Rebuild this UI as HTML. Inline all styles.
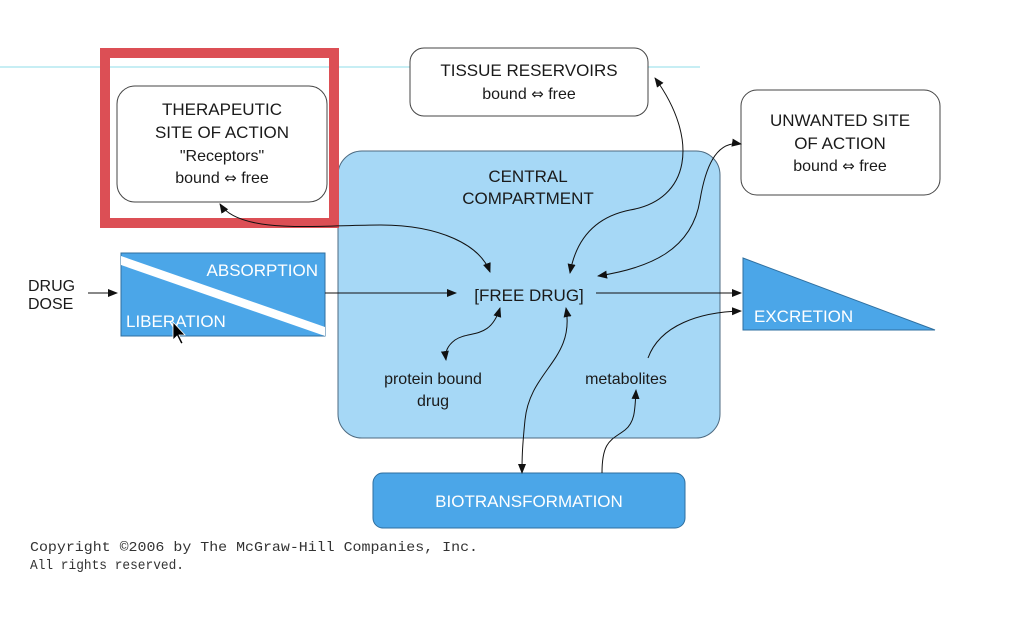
<!DOCTYPE html>
<html><head><meta charset="utf-8"><style>
html,body{margin:0;padding:0;background:#fff;}
svg{display:block;font-family:"Liberation Sans",Arial,sans-serif;}
.g{font-family:"DejaVu Sans",sans-serif;font-size:15px;}
</style></head><body>
<svg width="1016" height="620" viewBox="0 0 1016 620" xmlns="http://www.w3.org/2000/svg">
<defs>
<marker id="a" viewBox="0 0 10 10" refX="9" refY="5" markerWidth="10" markerHeight="10" orient="auto-start-reverse"><path d="M0,1 L10,5 L0,9 z" fill="#111"/></marker>
</defs>
<rect width="1016" height="620" fill="#fff"/>
<line x1="0" y1="67" x2="700" y2="67" stroke="#8fdde8" stroke-width="1"/>
<rect x="338" y="151" width="382" height="287" rx="24" fill="#a6d8f6" stroke="#4d6a80" stroke-width="1"/>
<text x="528" y="182" font-size="17" text-anchor="middle" fill="#1a1a1a">CENTRAL</text>
<text x="528" y="204" font-size="17" text-anchor="middle" fill="#1a1a1a">COMPARTMENT</text>
<text x="529" y="301" font-size="17" text-anchor="middle" fill="#1a1a1a">[FREE DRUG]</text>
<text x="433" y="384" font-size="16" text-anchor="middle" fill="#1a1a1a">protein bound</text>
<text x="433" y="406" font-size="16" text-anchor="middle" fill="#1a1a1a">drug</text>
<text x="626" y="384" font-size="16" text-anchor="middle" fill="#1a1a1a">metabolites</text>
<rect x="105" y="53" width="229" height="170" fill="none" stroke="#dc4f55" stroke-width="10"/>
<rect x="117" y="86" width="210" height="116" rx="18" fill="#fff" stroke="#444" stroke-width="1"/>
<text x="222" y="115" font-size="17" text-anchor="middle" fill="#1a1a1a">THERAPEUTIC</text>
<text x="222" y="138" font-size="17" text-anchor="middle" fill="#1a1a1a">SITE OF ACTION</text>
<text x="222" y="161" font-size="16" text-anchor="middle" fill="#1a1a1a">"Receptors"</text>
<text x="222" y="183" font-size="16" text-anchor="middle" fill="#1a1a1a">bound <tspan class="g">⇔</tspan> free</text>
<rect x="410" y="48" width="238" height="68" rx="14" fill="#fff" stroke="#444" stroke-width="1"/>
<text x="529" y="76" font-size="17" text-anchor="middle" fill="#1a1a1a">TISSUE RESERVOIRS</text>
<text x="529" y="99" font-size="16" text-anchor="middle" fill="#1a1a1a">bound <tspan class="g">⇔</tspan> free</text>
<rect x="741" y="90" width="199" height="105" rx="16" fill="#fff" stroke="#444" stroke-width="1"/>
<text x="840" y="126" font-size="17" text-anchor="middle" fill="#1a1a1a">UNWANTED SITE</text>
<text x="840" y="149" font-size="17" text-anchor="middle" fill="#1a1a1a">OF ACTION</text>
<text x="840" y="171" font-size="16" text-anchor="middle" fill="#1a1a1a">bound <tspan class="g">⇔</tspan> free</text>
<rect x="121" y="253" width="204" height="83" fill="#4ba6e8" stroke="#2f6f9f" stroke-width="1"/>
<polygon points="121,256 121,265 325,336 325,327" fill="#fff"/>
<text x="318" y="276" font-size="17" text-anchor="end" fill="#fff">ABSORPTION</text>
<text x="126" y="327" font-size="17" fill="#fff">LIBERATION</text>
<text x="28" y="291" font-size="16" fill="#1a1a1a">DRUG</text>
<text x="28" y="309" font-size="16" fill="#1a1a1a">DOSE</text>
<line x1="88" y1="293" x2="117" y2="293" stroke="#111" marker-end="url(#a)"/>
<polygon points="743,258 935,330 743,330" fill="#4ba6e8" stroke="#2f6f9f" stroke-width="1"/>
<text x="754" y="322" font-size="17" fill="#fff">EXCRETION</text>
<rect x="373" y="473" width="312" height="55" rx="10" fill="#4ba6e8" stroke="#2f6f9f" stroke-width="1"/>
<text x="529" y="507" font-size="17" text-anchor="middle" fill="#fff">BIOTRANSFORMATION</text>
<g fill="none" stroke="#111" stroke-width="1">
<line x1="325" y1="293" x2="456" y2="293" marker-end="url(#a)"/>
<line x1="596" y1="293" x2="741" y2="293" marker-end="url(#a)"/>
<path d="M220,204 C240,235 320,225 380,225 C440,225 480,245 490,272" marker-start="url(#a)" marker-end="url(#a)"/>
<path d="M655,78 C700,140 690,200 630,210 C590,218 575,245 570,273" marker-start="url(#a)" marker-end="url(#a)"/>
<path d="M741,144 C715,140 705,170 700,200 C692,250 650,268 598,276" marker-start="url(#a)" marker-end="url(#a)"/>
<path d="M500,308 C490,340 470,330 455,340 C447,346 445,352 446,360" marker-start="url(#a)" marker-end="url(#a)"/>
<path d="M566,308 C575,360 530,370 525,420 C522,450 522,460 522,473" marker-start="url(#a)" marker-end="url(#a)"/>
<path d="M602,473 C602,440 612,440 625,430 C635,422 635,410 636,390" marker-end="url(#a)"/>
<path d="M648,358 C660,325 700,312 741,311" marker-end="url(#a)"/>
</g>
<text x="30" y="551" font-size="14" fill="#333" font-family="Liberation Mono, monospace" textLength="448" lengthAdjust="spacingAndGlyphs">Copyright ©2006 by The McGraw-Hill Companies, Inc.</text>
<text x="30" y="569" font-size="14" fill="#333" font-family="Liberation Mono, monospace" textLength="154" lengthAdjust="spacingAndGlyphs">All rights reserved.</text>
<path d="M173,322 L173,340 L177,336 L181,344 L183,343 L179,335 L185,335 Z" fill="#000" stroke="#fff" stroke-width="0.8"/>
</svg>
</body></html>
